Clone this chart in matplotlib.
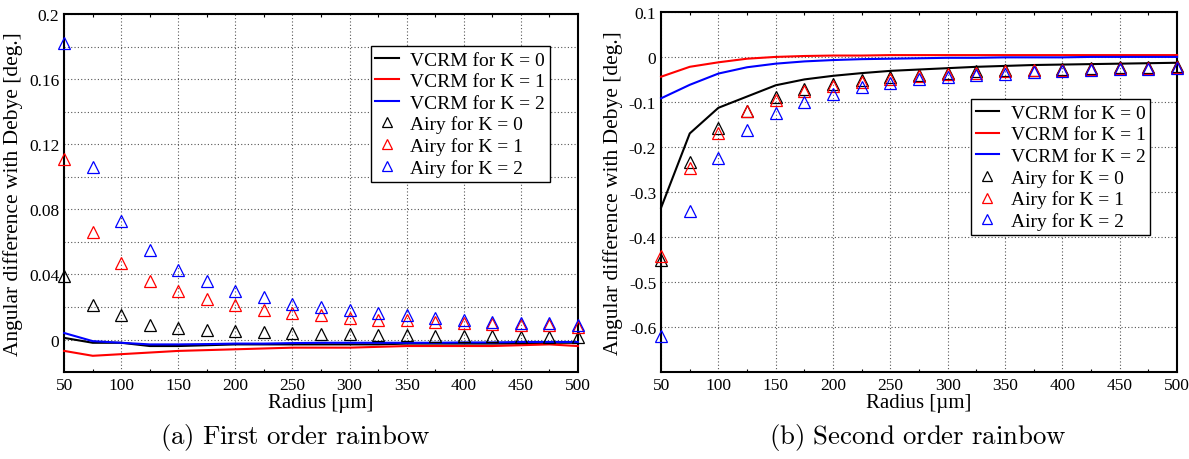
import numpy as np
import matplotlib
matplotlib.use("Agg")
import matplotlib.pyplot as plt
from matplotlib.ticker import MultipleLocator, FixedLocator

plt.rcParams['font.family'] = ['Liberation Serif', 'DejaVu Serif']
plt.rcParams['mathtext.fontset'] = 'cm'

# radius [um]
radius = [50, 75, 100, 125, 150, 175, 200, 225, 250, 275, 300,
          325, 350, 375, 400, 425, 450, 475, 500]

# (a) first order rainbow
vcrm1_k0 = [0.001, -0.002, -0.002, -0.004, -0.004, -0.0035, -0.003, -0.003, -0.003, -0.003, -0.003,
            -0.003, -0.0025, -0.0025, -0.0025, -0.0025, -0.0025, -0.002, -0.002]
vcrm1_k1 = [-0.007, -0.010, -0.009, -0.008, -0.007, -0.0065, -0.006, -0.0055, -0.005, -0.005, -0.005,
            -0.0045, -0.004, -0.004, -0.004, -0.004, -0.0035, -0.003, -0.004]
vcrm1_k2 = [0.004, -0.001, -0.002, -0.003, -0.003, -0.0028, -0.0025, -0.0025, -0.0022, -0.002, -0.002,
            -0.002, -0.002, -0.002, -0.0018, -0.0018, -0.0015, -0.0015, -0.0015]
airy1_k0 = [0.039, 0.021, 0.015, 0.009, 0.007, 0.006, 0.0055, 0.0045, 0.0042, 0.0035, 0.0032,
            0.003, 0.0025, 0.0022, 0.002, 0.002, 0.0018, 0.0017, 0.0016]
airy1_k1 = [0.111, 0.066, 0.047, 0.036, 0.030, 0.025, 0.021, 0.018, 0.016, 0.015, 0.013,
            0.012, 0.012, 0.011, 0.010, 0.0095, 0.009, 0.009, 0.008]
airy1_k2 = [0.182, 0.106, 0.073, 0.055, 0.043, 0.036, 0.030, 0.026, 0.022, 0.020, 0.018,
            0.016, 0.015, 0.013, 0.012, 0.011, 0.010, 0.010, 0.009]

# (b) second order rainbow
vcrm2_k0 = [-0.335, -0.170, -0.113, -0.088, -0.063, -0.050, -0.042, -0.036, -0.031, -0.028, -0.025,
            -0.022, -0.020, -0.018, -0.017, -0.016, -0.015, -0.014, -0.013]
vcrm2_k1 = [-0.044, -0.022, -0.012, -0.004, 0.000, 0.002, 0.003, 0.003, 0.004, 0.004, 0.004,
            0.004, 0.004, 0.004, 0.004, 0.004, 0.004, 0.004, 0.004]
vcrm2_k2 = [-0.092, -0.062, -0.037, -0.023, -0.015, -0.010, -0.007, -0.005, -0.004, -0.003, -0.002,
            -0.002, -0.001, -0.001, -0.001, 0.000, 0.000, 0.000, 0.000]
airy2_k0 = [-0.452, -0.233, -0.157, -0.120, -0.088, -0.072, -0.060, -0.052, -0.045, -0.040, -0.036,
            -0.032, -0.030, -0.028, -0.026, -0.024, -0.023, -0.022, -0.021]
airy2_k1 = [-0.443, -0.246, -0.168, -0.120, -0.095, -0.076, -0.064, -0.055, -0.048, -0.042, -0.038,
            -0.035, -0.032, -0.030, -0.028, -0.026, -0.025, -0.024, -0.022]
airy2_k2 = [-0.620, -0.343, -0.225, -0.163, -0.124, -0.100, -0.082, -0.067, -0.058, -0.050, -0.045,
            -0.040, -0.037, -0.034, -0.031, -0.029, -0.027, -0.026, -0.025]

colors = ['black', 'red', 'blue']


def draw(ax, vcrm, airy):
    for k, (v, c) in enumerate(zip(vcrm, colors)):
        ax.plot(radius, v, color=c, lw=1.5, label=f'VCRM for K = {k}', zorder=3, clip_on=False)
    for k, (a, c) in enumerate(zip(airy, colors)):
        ax.plot(radius, a, ls='none', marker='^', ms=9, mfc='none', mec=c, mew=0.9,
                label=f'Airy for K = {k}', zorder=4, clip_on=False)
    ax.set_xlim(50, 500)
    ax.xaxis.set_major_locator(MultipleLocator(50))
    ax.xaxis.set_minor_locator(MultipleLocator(25))
    ax.grid(True, which='major', color='#555555', ls=(0, (1, 2)), lw=0.8)
    ax.tick_params(which='both', direction='in', top=True, labelsize=12.5, width=0.8)
    ax.tick_params(which='major', length=0)
    ax.tick_params(which='minor', length=2)
    for s in ax.spines.values():
        s.set_linewidth(1.5)
    ax.set_xlabel('Radius [µm]', fontsize=15, labelpad=0)
    ax.set_ylabel('Angular difference with Debye [deg.]', fontsize=15.5, labelpad=4)


fig = plt.figure(figsize=(11.89, 4.60), dpi=100)
ax1 = fig.add_axes([0.054, 0.189, 0.432, 0.778])
ax2 = fig.add_axes([0.556, 0.189, 0.434, 0.783])

draw(ax1, [vcrm1_k0, vcrm1_k1, vcrm1_k2], [airy1_k0, airy1_k1, airy1_k2])
ax1.set_ylim(-0.02, 0.2)
ax1.yaxis.set_major_locator(FixedLocator([0, 0.02, 0.04, 0.06, 0.08, 0.1, 0.12, 0.14, 0.16, 0.18, 0.2]))
ax1.set_yticklabels(['0', '', '0.04', '', '0.08', '', '0.12', '', '0.16', '', '0.2'])

draw(ax2, [vcrm2_k0, vcrm2_k1, vcrm2_k2], [airy2_k0, airy2_k1, airy2_k2])
ax2.set_ylim(-0.7, 0.1)
ax2.yaxis.set_major_locator(FixedLocator([-0.7, -0.6, -0.5, -0.4, -0.3, -0.2, -0.1, 0, 0.1]))
ax2.set_yticklabels(['', '-0.6', '-0.5', '-0.4', '-0.3', '-0.2', '-0.1', '0', '0.1'])

legkw = dict(loc='upper right', fontsize=14, frameon=True, fancybox=False, framealpha=1,
             edgecolor='black', handlelength=1.2, handletextpad=0.6, labelspacing=0.2,
             borderpad=0.25, markerscale=0.75, borderaxespad=0)
l1 = ax1.legend(bbox_to_anchor=(0.946, 0.911), **legkw)
l2 = ax2.legend(bbox_to_anchor=(0.948, 0.757), **legkw)
for l in (l1, l2):
    l.get_frame().set_linewidth(1.0)

fig.text(0.248, 0.048, r'$\mathrm{(a)\ First\ order\ rainbow}$', ha='center', va='center', fontsize=19.3)
fig.text(0.772, 0.048, r'$\mathrm{(b)\ Second\ order\ rainbow}$', ha='center', va='center', fontsize=19.3)

fig.savefig('out.png', dpi=100)
